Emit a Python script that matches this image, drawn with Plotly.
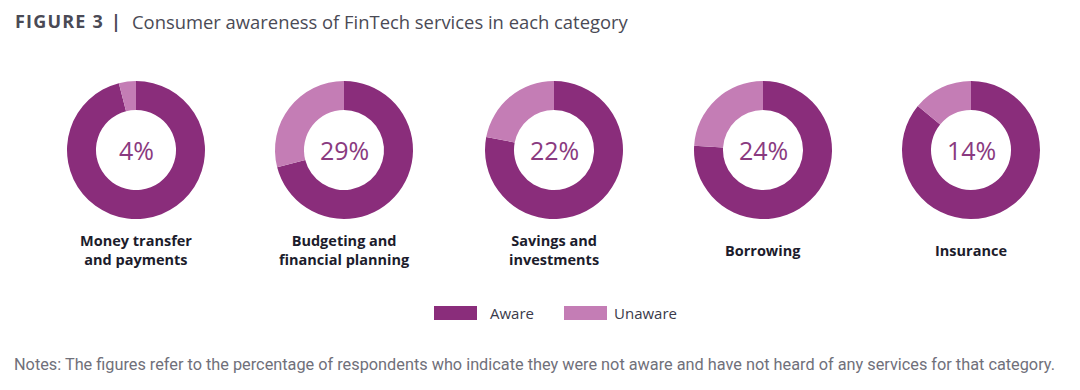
import plotly.graph_objects as go

categories = ["Money transfer<br>and payments", "Budgeting and<br>financial planning",
              "Savings and<br>investments", "Borrowing", "Insurance"]
unaware = [4, 29, 22, 24, 14]
aware = [100 - u for u in unaware]
series_names = ["Aware", "Unaware"]
colors = ["#8A2D7B", "#C47DB5"]

W, H = 1080, 390
centers_x = [136, 344, 554, 763, 971]
cy = 150
r = 69

fig = go.Figure()
for i, cat in enumerate(categories):
    cx = centers_x[i]
    fig.add_trace(go.Pie(
        labels=series_names,
        values=[aware[i], unaware[i]],
        hole=0.58,
        sort=False,
        direction="clockwise",
        rotation=0,
        marker=dict(colors=colors, line=dict(width=0)),
        textinfo="none",
        hoverinfo="label+percent",
        showlegend=False,
        domain=dict(x=[(cx - r) / W, (cx + r) / W], y=[1 - (cy + r) / H, 1 - (cy - r) / H]),
    ))
    fig.add_annotation(x=cx / W, y=1 - cy / H, xref="paper", yref="paper",
                       xanchor="center", yanchor="middle",
                       text=f"{unaware[i]}%", showarrow=False,
                       font=dict(family="Open Sans", size=25, color="#8A3A80"))
    fig.add_annotation(x=cx / W, y=1 - 250 / H, xref="paper", yref="paper",
                       xanchor="center", yanchor="middle",
                       text=f"<b>{cat}</b>", showarrow=False, align="center",
                       font=dict(family="Open Sans", size=14.5, color="#1C1C2C"))

# Title
fig.add_annotation(x=13 / W, y=1 - 21 / H, xref="paper", yref="paper",
                   xanchor="left", yanchor="middle",
                   text="<b><span style='letter-spacing:1.2px'>FIGURE 3</span></b>",
                   showarrow=False, font=dict(family="Open Sans", size=18, color="#4A4A55"))
fig.add_annotation(x=116 / W, y=1 - 21 / H, xref="paper", yref="paper",
                   xanchor="center", yanchor="middle",
                   text="<b>|</b>",
                   showarrow=False, font=dict(family="Open Sans", size=18, color="#4A4A55"))
fig.add_annotation(x=130 / W, y=1 - 21 / H, xref="paper", yref="paper",
                   xanchor="left", yanchor="middle",
                   text="Consumer awareness of FinTech services in each category",
                   showarrow=False, font=dict(family="Open Sans", size=18.4, color="#4A4A55"))

# Legend
leg = [(434, 477, 488), (564, 607, 612)]
for (x0, x1, tx), name, col in zip(leg, series_names, colors):
    fig.add_shape(type="rect", xref="paper", yref="paper",
                  x0=x0 / W, x1=x1 / W, y0=1 - 320 / H, y1=1 - 306 / H,
                  fillcolor=col, line=dict(width=0))
    fig.add_annotation(x=tx / W, y=1 - 313 / H, xref="paper", yref="paper",
                       xanchor="left", yanchor="middle",
                       text=name, showarrow=False,
                       font=dict(family="Open Sans", size=15, color="#3A3A4A"))

# Notes
fig.add_annotation(x=12 / W, y=1 - 364 / H, xref="paper", yref="paper",
                   xanchor="left", yanchor="middle",
                   text="Notes: The figures refer to the percentage of respondents who indicate they were not aware and have not heard of any services for that category.",
                   showarrow=False, font=dict(family="Roboto", size=16.3, color="#70707A"))

fig.update_layout(width=W, height=H, margin=dict(l=0, r=0, t=0, b=0),
                  paper_bgcolor="white", plot_bgcolor="white", showlegend=False)
fig.write_html("out.html", config={"displayModeBar": False},
               post_script="document.body.style.margin='0';")
